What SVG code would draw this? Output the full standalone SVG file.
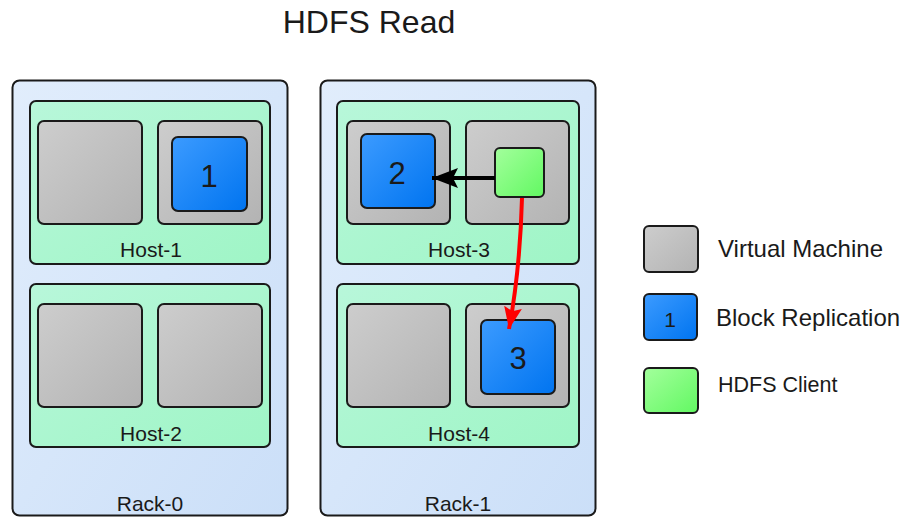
<svg xmlns="http://www.w3.org/2000/svg" width="904" height="517" viewBox="0 0 904 517">
<defs>
<linearGradient id="gRack" x1="0" y1="0" x2="1" y2="1"><stop offset="0" stop-color="#e1edfc"/><stop offset="1" stop-color="#cbdff8"/></linearGradient>
<linearGradient id="gHost" x1="0" y1="0" x2="1" y2="1"><stop offset="0" stop-color="#b8f7da"/><stop offset="1" stop-color="#9ff5c6"/></linearGradient>
<linearGradient id="gVm" x1="0" y1="0" x2="1" y2="1"><stop offset="0" stop-color="#cdcdcd"/><stop offset="1" stop-color="#b3b3b3"/></linearGradient>
<linearGradient id="gBlk" x1="0" y1="0" x2="1" y2="1"><stop offset="0" stop-color="#3c9bff"/><stop offset="1" stop-color="#0074f0"/></linearGradient>
<linearGradient id="gCli" x1="0" y1="0" x2="1" y2="1"><stop offset="0" stop-color="#a3ff9c"/><stop offset="1" stop-color="#62f862"/></linearGradient>
<marker id="mBlack" markerUnits="userSpaceOnUse" markerWidth="28" markerHeight="20" refX="26" refY="10" orient="auto"><path d="M0,0 L26,10 L0,20 L5,10 z" fill="#000"/></marker>
<marker id="mRed" markerUnits="userSpaceOnUse" markerWidth="24" markerHeight="18" refX="22" refY="9" orient="auto"><path d="M0,0 L22,9 L0,18 L4,9 z" fill="#ff0000"/></marker>
</defs>
<style>
.rack{fill:url(#gRack);stroke:#1a1a1a;stroke-width:2}
.host{fill:url(#gHost);stroke:#1a1a1a;stroke-width:2}
.vm{fill:url(#gVm);stroke:#1a1a1a;stroke-width:2}
.blk{fill:url(#gBlk);stroke:#1a1a1a;stroke-width:2}
.cli{fill:url(#gCli);stroke:#1a1a1a;stroke-width:2}
text{font-family:"Liberation Sans",Arial,sans-serif;fill:#1a1a1a}
.lbl{font-size:21px;text-anchor:middle}
.num{font-size:31px;text-anchor:middle}
.leg{font-size:24px}
</style>
<text x="369" y="33" style="font-size:32px;text-anchor:middle">HDFS Read</text>

<g id="rack-0">
<rect class="rack" x="12.5" y="80.5" width="275" height="435" rx="7"/>
<text class="lbl" x="150" y="511">Rack-0</text>
</g>
<g id="rack-1">
<rect class="rack" x="320.5" y="80.5" width="275" height="435" rx="7"/>
<text class="lbl" x="458" y="511">Rack-1</text>
</g>

<g id="host-1">
<rect class="host" x="30" y="101" width="240" height="163" rx="6"/>
<text class="lbl" x="151" y="257">Host-1</text>
<rect class="vm" x="38" y="121" width="104" height="103" rx="6"/>
<rect class="vm" x="158" y="121" width="104" height="103" rx="6"/>
</g>
<g id="host-2">
<rect class="host" x="30" y="284" width="240" height="163" rx="6"/>
<text class="lbl" x="151" y="441">Host-2</text>
<rect class="vm" x="38" y="304" width="104" height="103" rx="6"/>
<rect class="vm" x="158" y="304" width="104" height="103" rx="6"/>
</g>
<g id="host-3">
<rect class="host" x="337" y="101" width="242" height="163" rx="6"/>
<text class="lbl" x="459" y="257">Host-3</text>
<rect class="vm" x="347" y="121" width="103" height="103" rx="6"/>
<rect class="vm" x="466" y="121" width="103" height="103" rx="6"/>
</g>
<g id="host-4">
<rect class="host" x="337" y="284" width="242" height="163" rx="6"/>
<text class="lbl" x="459" y="441">Host-4</text>
<rect class="vm" x="347" y="304" width="103" height="103" rx="6"/>
<rect class="vm" x="466" y="304" width="103" height="103" rx="6"/>
</g>

<g id="block-1">
<rect class="blk" x="172" y="137" width="75" height="74" rx="6"/>
<text class="num" x="209" y="187">1</text>
</g>
<g id="block-2">
<rect class="blk" x="361" y="134" width="74" height="74" rx="6"/>
<text class="num" x="397" y="184">2</text>
</g>
<g id="block-3">
<rect class="blk" x="481" y="320" width="74" height="74" rx="6"/>
<text class="num" x="518" y="369">3</text>
</g>
<g id="hdfs-client">
<rect class="cli" x="495" y="148" width="49" height="49" rx="5"/>
</g>

<g id="connectors">
<path d="M495,178 L432,178" stroke="#000" stroke-width="4" fill="none" marker-end="url(#mBlack)"/>
<path d="M522,198 Q520,270 509,329" stroke="#ff0000" stroke-width="4" fill="none" marker-end="url(#mRed)"/>
</g>

<g id="legend">
<g id="legend-vm">
<rect class="vm" x="644" y="226" width="54" height="46" rx="5"/>
<text class="leg" x="718" y="257">Virtual Machine</text>
</g>
<g id="legend-block">
<rect class="blk" x="644" y="294" width="53" height="46" rx="5"/>
<text x="670" y="327" style="font-size:21px;text-anchor:middle">1</text>
<text class="leg" x="716" y="326">Block Replication</text>
</g>
<g id="legend-client">
<rect class="cli" x="644" y="368" width="54" height="45" rx="5"/>
<text x="718" y="392" style="font-size:21.5px">HDFS Client</text>
</g>
</g>
</svg>
